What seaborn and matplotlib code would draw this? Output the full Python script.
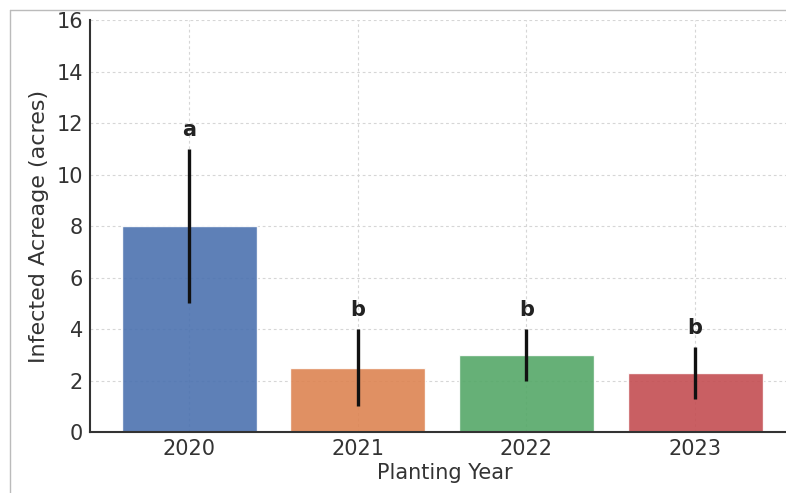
import matplotlib
matplotlib.use("Agg")
import matplotlib.pyplot as plt
from matplotlib.lines import Line2D
import seaborn as sns
import pandas as pd

years = ["2020", "2021", "2022", "2023"]
means = [8.0, 2.5, 3.0, 2.3]
errs = [3.0, 1.5, 1.0, 1.0]
letters = ["a", "b", "b", "b"]
colors = ["#4C72B0", "#DD8452", "#55A868", "#C44E52"]

sns.set_style("white")
plt.rcParams['font.family'] = ['DejaVu Sans']

df = pd.DataFrame({"Planting Year": years, "Infected Acreage (acres)": means})

fig = plt.figure(figsize=(7.86, 4.93), dpi=100)
ax = fig.add_axes([0.1145, 0.1237, 0.903, 0.8357])

sns.barplot(data=df, x="Planting Year", y="Infected Acreage (acres)", hue="Planting Year",
            palette=colors, errorbar=None, width=0.8, alpha=0.9, saturation=1,
            legend=False, ax=ax, zorder=2)

xs = list(range(len(years)))
ax.errorbar(xs, means, yerr=errs, fmt="none", ecolor="#111111", elinewidth=2.4, capsize=0, zorder=3)
for x, m, e, l in zip(xs, means, errs, letters):
    ax.text(x, m + e + 0.35, l, ha="center", va="bottom", fontsize=15, fontweight="bold", color="#222222")

ax.set_xlim(-0.587, 3.62)
ax.set_ylim(0, 16)
ax.set_yticks(range(0, 17, 2))
ax.grid(True, linestyle=(0, (2.5, 2.5)), color="#d6d6d6", linewidth=0.8, zorder=0)
ax.set_axisbelow(True)
for s in ["top", "right"]:
    ax.spines[s].set_visible(False)
for s in ["left", "bottom"]:
    ax.spines[s].set_color("#333333")
    ax.spines[s].set_linewidth(1.5)
ax.tick_params(axis="both", direction="in", length=4, width=1.2, color="#333333",
               labelsize=15, labelcolor="#333333", pad=5)
ax.set_xlabel("Planting Year", fontsize=15, color="#333333", labelpad=3)
ax.set_ylabel("Infected Acreage (acres)", fontsize=16, color="#333333", labelpad=5)

# screenshot frame lines
fig.add_artist(Line2D([10/786, 1], [1 - 10/493, 1 - 10/493], transform=fig.transFigure, color="#bbbbbb", lw=1))
fig.add_artist(Line2D([10/786, 10/786], [0, 1 - 10/493], transform=fig.transFigure, color="#bbbbbb", lw=1))

fig.savefig("out.png", dpi=100)
